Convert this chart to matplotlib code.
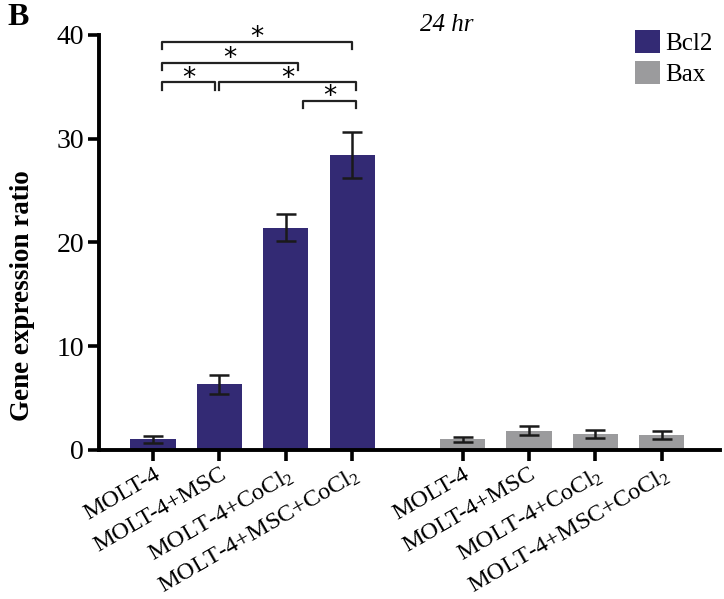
import matplotlib
matplotlib.use("Agg")
import matplotlib.pyplot as plt
from matplotlib.patches import Patch
import numpy as np

plt.rcParams['font.family'] = ['Liberation Serif', 'DejaVu Serif']
plt.rcParams['mathtext.fontset'] = 'custom'
plt.rcParams['mathtext.rm'] = 'Liberation Serif'
plt.rcParams['mathtext.it'] = 'Liberation Serif:italic'

categories = ['MOLT-4', 'MOLT-4+MSC', r'MOLT-4+CoCl$_2$', r'MOLT-4+MSC+CoCl$_2$']
bcl2 = [1.0, 6.3, 21.4, 28.4]
bcl2_err = [0.3, 0.9, 1.3, 2.2]
bax = [1.0, 1.85, 1.5, 1.4]
bax_err = [0.28, 0.4, 0.4, 0.4]
series_names = ['Bcl2', 'Bax']
colors = ['#332a74', '#9b9b9d']
# significance pairs (indices into Bcl2 group) and their heights
sig_pairs = [(0, 3), (0, 2), (0, 1), (1, 3), (2, 3)]
sig_heights = [39.3, 37.3, 35.4, 35.4, 33.6]
yticks = [0, 10, 20, 30, 40]

fig = plt.figure(figsize=(7.24, 5.99), dpi=100)
ax = fig.add_axes([0.137, 0.249, 0.994 - 0.137, 0.942 - 0.249])

x1 = np.arange(4)
x2 = np.arange(4) + 4.66
w = 0.68
ek = dict(elinewidth=1.8, capthick=1.8, ecolor='#1a1a1a')
ax.bar(x1, bcl2, w, color=colors[0], yerr=bcl2_err, capsize=7.5, error_kw=ek, zorder=2)
ax.bar(x2, bax, w, color=colors[1], yerr=bax_err, capsize=7.5, error_kw=ek, zorder=2)

ax.set_xlim(-0.81, 8.53)
ax.set_ylim(0, 40)
ax.set_yticks(yticks)
ax.set_xticks(np.concatenate([x1, x2]))
ax.set_xticklabels(categories + categories, rotation=30, ha='right',
                   rotation_mode='anchor', fontsize=17.5)
ax.tick_params(axis='y', labelsize=20, width=2.6, length=8, direction='out', pad=3)
ax.tick_params(axis='x', width=2.6, length=8, direction='out', pad=2)
for s in ['top', 'right']:
    ax.spines[s].set_visible(False)
for s in ['left', 'bottom']:
    ax.spines[s].set_linewidth(2.8)
ax.set_ylabel('Gene expression ratio', fontsize=19.5, fontweight='bold')
ax.yaxis.set_label_coords(-0.104, 0.371)

# significance brackets
drop = 0.7
for (a, b), h in zip(sig_pairs, sig_heights):
    xa = a + (0.14 if a == 0 else (0.0 if a == 1 else 0.26))
    xb = b + (0.05 if b == 3 else 0.18 if b == 2 else -0.07)
    if (a, b) == (0, 3):
        xb = b - 0.01
    ax.plot([xa, xa, xb, xb], [h - drop, h, h, h - drop], color='#222222',
            lw=1.6, clip_on=False, zorder=3)
    ax.text((xa + xb) / 2, h - 0.3, '*', ha='center', va='baseline', fontsize=19,
            family='DejaVu Sans', clip_on=False)

fig.text(0.617, 0.958, '24 hr', fontsize=18, style='italic', ha='center', va='center')
fig.text(0.01, 0.995, 'B', fontsize=23, fontweight='bold', va='top', ha='left')

handles = [Patch(facecolor=c, edgecolor='none') for c in colors]
ax.legend(handles, series_names, loc='upper right', bbox_to_anchor=(1.005, 1.035),
          frameon=False, fontsize=18, handlelength=1.0, handleheight=1.0,
          handletextpad=0.2, labelspacing=0.25, borderaxespad=0.0)

fig.savefig('out.png', dpi=100)
